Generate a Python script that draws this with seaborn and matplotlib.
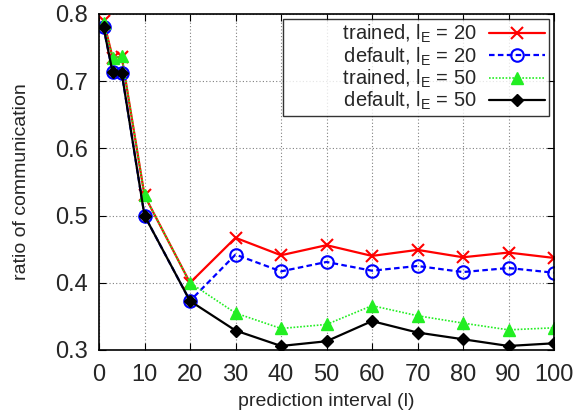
import pandas as pd
import numpy as np
import matplotlib.pyplot as plt
import seaborn as sns

# prediction intervals
interval = [1, 3, 5, 10, 20, 30, 40, 50, 60, 70, 80, 90, 100]

trained_20 = [0.790, 0.735, 0.736, 0.530, 0.400, 0.467, 0.441, 0.456, 0.440, 0.449, 0.438, 0.445, 0.437]
default_20 = [0.780, 0.713, 0.712, 0.500, 0.373, 0.442, 0.417, 0.431, 0.418, 0.425, 0.416, 0.422, 0.415]
trained_50 = [0.787, 0.735, 0.737, 0.530, 0.400, 0.355, 0.332, 0.338, 0.366, 0.351, 0.340, 0.330, 0.333]
default_50 = [0.780, 0.713, 0.712, 0.500, 0.373, 0.329, 0.306, 0.313, 0.343, 0.326, 0.316, 0.306, 0.310]

labels = ['trained, l$_E$ = 20', 'default, l$_E$ = 20', 'trained, l$_E$ = 50', 'default, l$_E$ = 50']

sns.set_style('ticks')
plt.rcParams['font.family'] = ['Liberation Sans', 'DejaVu Sans']
plt.rcParams['mathtext.fontset'] = 'custom'
plt.rcParams['mathtext.rm'] = 'Liberation Sans'
plt.rcParams['mathtext.it'] = 'Liberation Sans'

fig = plt.figure(figsize=(5.76, 4.18), dpi=100)
ax = fig.add_axes([99 / 576, 1 - 350 / 418, 455 / 576, 336 / 418])

styles = [
    dict(color='red', marker='x', ms=9, mew=1.5, lw=1.6, ls='-', mfc='red'),
    dict(color='blue', marker='o', ms=9, mew=1.5, lw=1.6, ls=(0, (2.5, 1.5)), mfc='none'),
    dict(color='#22ee22', marker='^', ms=8, mew=1, lw=1.2, ls=(0, (1, 1)), mfc='#22ee22'),
    dict(color='black', marker='D', ms=6, mew=1, lw=1.6, ls='-', mfc='black'),
]
series = [trained_20, default_20, trained_50, default_50]

for vals, lab, st in zip(series, labels, styles):
    df = pd.DataFrame({'x': interval, 'y': vals})
    sns.lineplot(data=df, x='x', y='y', ax=ax, label='          ' + lab, color=st['color'],
                 marker=st['marker'], markersize=st['ms'], markeredgewidth=st['mew'],
                 markeredgecolor=st['color'], markerfacecolor=st['mfc'],
                 linewidth=st['lw'], linestyle=st['ls'])

ax.set_xlim(0, 100)
ax.set_ylim(0.3, 0.8)
ax.set_xticks(np.arange(0, 101, 10))
ax.set_yticks([0.3, 0.4, 0.5, 0.6, 0.7, 0.8])
ax.grid(True, color='gray', linestyle=(0, (1, 2)), linewidth=0.8)
ax.tick_params(direction='in', top=True, right=True, labelsize=17, length=5, color='black')
ax.tick_params(axis='y', pad=8)
ax.tick_params(axis='x', pad=10)
for s in ax.spines.values():
    s.set_color('black')
    s.set_linewidth(1.2)
ax.set_xlabel('prediction interval (l)', fontsize=14, labelpad=5)
ax.set_ylabel('ratio of communication', fontsize=14, labelpad=18)

leg = ax.legend(loc='upper right', markerfirst=False, fontsize=14.5, frameon=True,
                fancybox=False, edgecolor='black', borderpad=0.2, labelspacing=0.0,
                handlelength=2.8, handletextpad=0.6, borderaxespad=0.25)
leg.get_frame().set_linewidth(1.0)
for t in leg.get_texts():
    t.set_ha('right')

plt.savefig('out.png', dpi=100)
